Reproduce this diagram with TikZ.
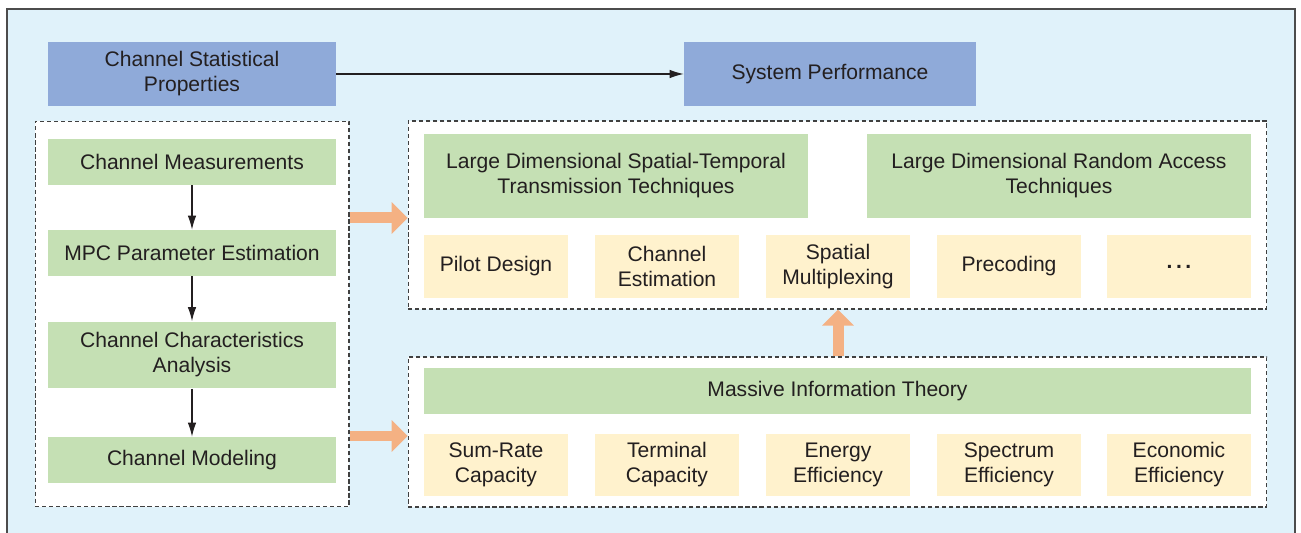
\documentclass[tikz,border=0pt]{standalone}
\usepackage{fontspec}
\setmainfont{Liberation Sans}
\usetikzlibrary{arrows.meta}
\definecolor{bgblue}{HTML}{E0F2FA}
\definecolor{headblue}{HTML}{8FAAD9}
\definecolor{stepgreen}{HTML}{C5E0B4}
\definecolor{itemyellow}{HTML}{FFF2CD}
\definecolor{fatorange}{HTML}{F4B183}
\definecolor{textgray}{HTML}{231F20}
\tikzset{
  box/.style={inner sep=0pt, align=center, text=textgray, font=\fontsize{12}{14.2}\selectfont},
  headbox/.style={box, fill=headblue, minimum width=5.76cm, minimum height=1.28cm},
  stepbox/.style={box, fill=stepgreen, minimum width=5.76cm, minimum height=0.92cm},
  itembox/.style={box, fill=itemyellow, minimum width=2.88cm, minimum height=1.26cm},
  groupbox/.style={draw=black!75, fill=white, line width=0.6pt, dash pattern=on 2.4pt off 1.6pt, inner sep=0pt},
  thinarrow/.style={draw=textgray, line width=0.6pt, -{Latex[length=0.28cm,width=0.17cm]}},
  fatarrow/.style={draw=fatorange, line width=0.22cm, -{Triangle[length=0.32cm,width=0.62cm]}}
}
\begin{document}
\begin{tikzpicture}[x=0.02cm, y=-0.02cm]
\useasboundingbox (0,0) rectangle (1301,533);
% background frame, open at the bottom
\fill[bgblue] (7,9) rectangle (1295,560);
\draw[black!70, line width=1.1pt] (7,560) -- (7,9) -- (1295,9) -- (1295,560);

% dashed groups
\node[groupbox, minimum width=6.28cm, minimum height=7.72cm] (lgroup) at (192,314) {};
\node[groupbox, minimum width=17.18cm, minimum height=3.76cm] (tgroup) at (837.5,215) {};
\node[groupbox, minimum width=17.18cm, minimum height=3.0cm] (bgroup) at (837.5,432) {};

% top row
\node[headbox] (csp) at (192,74) {Channel Statistical\\Properties};
\node[headbox, minimum width=5.84cm] (sp) at (830,74) {System Performance};
\draw[thinarrow] (csp) -- (sp);

% channel steps
\node[stepbox] (cm) at (192,162) {Channel Measurements};
\node[stepbox] (mpc) at (192,253) {MPC Parameter Estimation};
\node[stepbox, minimum height=1.34cm] (cca) at (192,355) {Channel Characteristics\\Analysis};
\node[stepbox] (cmod) at (192,460) {Channel Modeling};
\draw[thinarrow] (cm) -- (mpc);
\draw[thinarrow] (mpc) -- (cca);
\draw[thinarrow] (cca) -- (cmod);

% transmission techniques
\node[stepbox, minimum width=7.68cm, minimum height=1.68cm] (lst) at (616,176) {Large Dimensional Spatial-Temporal\\Transmission Techniques};
\node[stepbox, minimum width=7.68cm, minimum height=1.68cm] (lra) at (1059,176) {Large Dimensional Random Access\\Techniques};
\node[itembox] (pd) at (496,266.5) {Pilot Design};
\node[itembox] (ce) at (667,266.5) {Channel\\Estimation};
\node[itembox] (sm) at (838,266.5) {Spatial\\Multiplexing};
\node[itembox] (pc) at (1009,266.5) {Precoding};
\node[itembox] (etc) at (1179,266.5) {\textbf{.\,.\,.}};

% information theory
\node[stepbox, minimum width=16.54cm] (mit) at (837.5,391) {Massive Information Theory};
\node[itembox] (src) at (496,465) {Sum-Rate\\Capacity};
\node[itembox] (tc) at (667,465) {Terminal\\Capacity};
\node[itembox] (ee) at (838,465) {Energy\\Efficiency};
\node[itembox] (se) at (1009,465) {Spectrum\\Efficiency};
\node[itembox] (eco) at (1179,465) {Economic\\Efficiency};

% fat arrows between the groups
\draw[fatarrow] ([yshift=-0.06cm]lgroup.east |- tgroup.west) -- ([yshift=-0.06cm]tgroup.west);
\draw[fatarrow] ([yshift=-0.08cm]lgroup.east |- bgroup.west) -- ([yshift=-0.08cm]bgroup.west);
\draw[fatarrow] (bgroup.north -| sm) -- (tgroup.south -| sm);
\end{tikzpicture}
\end{document}
